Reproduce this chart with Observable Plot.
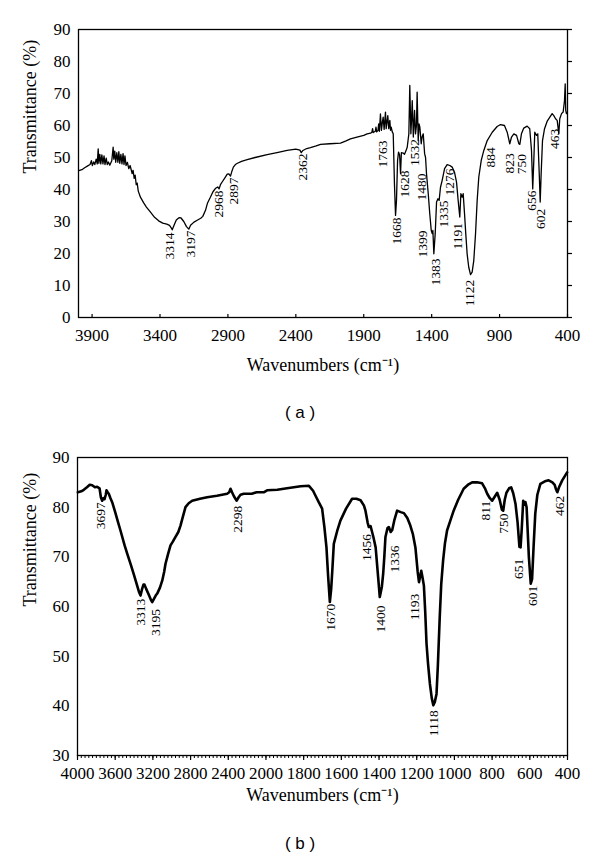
<!DOCTYPE html>
<html><head><meta charset="utf-8">
<script src="https://cdn.jsdelivr.net/npm/d3@7"></script>
<script src="https://cdn.jsdelivr.net/npm/@observablehq/plot@0.6"></script>
<style>
body{margin:0;background:#fff;}
#wrap{width:600px;height:865px;overflow:hidden;}
.cap{font-family:"Liberation Sans",Arial,sans-serif;font-size:17px;text-align:center;width:600px;color:#000;}
#capA{height:55px;line-height:55px;}
#capB{height:50px;line-height:58px;}
svg{display:block}
</style></head><body>
<div id="wrap">
<div id="a"></div>
<div class="cap" id="capA">( a )</div>
<div id="b"></div>
<div class="cap" id="capB">( b )</div>
</div>
<script>
// ---------- Panel (a) ----------
const wnA = [3998,3975,3955,3935,3915,3905,3898,3888,3880,3870,3862,3855,3850,3843,3836,3828,3820,3812,3805,3796,3788,3780,3770,3755,3745,3740,3733,3726,3718,3710,3703,3696,3688,3680,3672,3665,3658,3650,3640,3630,3620,3605,3598,3590,3583,3575,3568,3560,3544,3520,3500,3470,3440,3410,3380,3350,3330,3320,3310,3295,3280,3260,3245,3225,3205,3188,3175,3150,3126,3100,3085,3065,3050,3030,3010,2990,2975,2965,2955,2940,2920,2905,2893,2881,2870,2860,2845,2830,2800,2758,2700,2611,2530,2464,2400,2370,2360,2348,2320,2292,2250,2218,2150,2071,2030,1998,1950,1900,1875,1850,1840,1835,1830,1815,1810,1805,1795,1790,1785,1777,1770,1763,1757,1750,1740,1735,1723,1716,1708,1703,1698,1690,1683,1674,1666,1659,1651,1644,1636,1629,1623,1610,1600,1590,1580,1568,1561,1553,1548,1543,1535,1526,1519,1512,1507,1499,1493,1487,1477,1470,1462,1452,1445,1438,1425,1414,1403,1396,1391,1384,1374,1364,1354,1345,1335,1323,1305,1286,1266,1249,1232,1217,1205,1193,1185,1175,1168,1158,1149,1139,1127,1114,1102,1090,1077,1065,1053,1035,1016,991,954,918,893,864,844,825,812,795,775,758,751,739,722,697,678,665,656,648,641,628,619,608,601,594,584,569,549,530,513,501,488,476,464,457,444,432,422,417,413,408,402];
const tA = [45.9,46.2,46.8,47.3,47.8,49.0,47.5,48.6,47.8,49.5,48.0,52.7,48.2,51.0,48.0,50.8,48.0,50.5,47.8,49.8,47.8,48.6,47.6,49.0,53.2,49.5,52.0,48.5,51.5,48.5,51.8,48.2,51.0,48.0,51.2,47.8,50.5,47.5,48.5,46.5,47.5,45.0,46.0,43.5,44.5,41.5,42.0,39.5,37.6,35.8,34.5,32.9,31.3,30.2,29.5,29.2,28.8,28.2,27.4,29.0,30.5,31.2,31.1,30.0,28.4,27.6,28.8,29.8,30.4,31.0,31.6,33.5,35.8,37.5,39.3,40.4,40.8,40.2,41.5,42.5,43.8,44.8,44.9,44.2,45.8,47.0,47.8,48.2,48.8,49.3,50.0,50.9,51.6,52.2,52.6,52.3,51.5,52.2,52.8,53.1,53.6,54.1,54.3,54.5,55.2,55.8,56.4,56.9,57.4,57.6,57.9,59.0,57.8,58.2,59.5,58.0,58.5,60.5,58.2,63.6,58.5,61.0,62.6,58.8,64.2,59.0,63.1,59.0,61.6,58.5,59.5,58.0,57.4,41.8,31.9,36.6,49.1,51.7,50.8,44.9,51.5,51.4,51.0,52.0,53.2,57.4,72.5,57.4,62.0,67.8,56.4,64.7,57.4,60.0,70.4,55.3,60.5,59.5,54.3,56.5,57.4,51.2,50.0,44.9,38.6,32.4,27.2,26.2,27.2,19.9,26.2,36.1,37.1,36.6,40.7,42.8,46.5,47.8,47.5,47.0,45.4,42.3,36.6,31.4,38.7,37.6,38.7,32.4,26.2,19.9,15.7,13.4,14.2,17.8,26.2,36.6,43.9,49.1,52.2,55.3,57.9,59.7,60.3,60.0,57.9,54.3,56.4,57.4,56.9,54.3,54.1,57.4,59.2,59.8,59.0,52.2,40.2,49.1,57.9,56.9,57.4,44.9,36.1,44.9,55.3,59.0,61.4,62.6,63.7,63.1,62.1,61.6,57.4,62.1,63.7,64.2,67.8,73.0,64.7,63.7,64.2];
const peakTextA = ["3314","3197","2968","2897","2362","1763","1668","1628","1532","1480","1399","1383","1335","1276","1191","1122","884","823","750","656","602","463"];
const peakWnA = [3330,3175,2969,2859,2351,1764,1661,1601,1526,1475,1467,1367,1313,1269,1210,1118,962,827,739,665,599,496];
const peakTA = [26.6,27.2,39.7,43.75,51.25,55.3,31.25,45.9,55.8,45.0,27.2,18.4,36.6,46.6,29.5,11.8,53.2,51.3,51.1,39.7,34.0,59.0];
const xTicksA = [3900,3400,2900,2400,1900,1400,900,400];
const yTicksA = [0,10,20,30,40,50,60,70,80,90];

// ---------- Panel (b) ----------
const wnB = [3996,3960,3933,3900,3870,3844,3815,3791,3766,3752,3738,3725,3713,3700,3692,3680,3668,3650,3632,3600,3570,3544,3500,3470,3437,3400,3367,3345,3331,3315,3300,3289,3270,3240,3220,3207,3190,3170,3154,3125,3101,3080,3066,3040,3013,2990,2960,2930,2907,2880,2854,2820,2783,2700,2624,2520,2412,2390,2376,2360,2340,2312,2290,2270,2236,2150,2100,2024,1994,1940,1888,1816,1772,1750,1737,1720,1702,1690,1679,1670,1661,1654,1648,1640,1620,1605,1575,1543,1520,1498,1480,1472,1460,1454,1445,1430,1418,1405,1396,1385,1378,1372,1366,1355,1348,1338,1330,1318,1304,1285,1268,1250,1234,1220,1207,1195,1188,1176,1170,1162,1155,1148,1140,1130,1120,1112,1104,1095,1088,1078,1070,1060,1050,1039,1020,1004,980,951,925,906,880,853,838,826,812,800,788,773,760,748,741,733,724,710,699,688,676,665,655,649,643,635,629,623,617,605,595,588,580,571,560,544,520,500,480,468,460,454,445,428,415,402];
const tB = [83.0,83.2,83.5,84.0,84.5,84.4,84.0,84.1,83.8,82.0,81.3,81.8,81.6,82.5,83.4,83.0,82.7,81.8,81.0,79.0,77.0,75.3,72.3,70.5,68.6,66.3,64.2,62.8,62.2,63.5,64.4,64.4,63.5,62.2,61.3,60.9,61.5,62.2,62.6,63.8,65.2,67.0,68.6,70.5,72.3,73.0,74.0,75.0,76.3,78.2,80.0,80.8,81.3,81.7,82.0,82.3,82.7,83.0,83.7,83.0,82.2,81.3,82.0,82.5,82.7,82.7,83.0,83.0,83.4,83.5,83.8,84.2,84.3,83.3,82.3,81.0,79.7,76.0,71.9,66.0,60.9,63.5,67.2,72.6,75.5,77.3,79.7,81.7,81.7,81.4,80.3,79.3,76.8,76.0,76.2,74.0,71.9,66.0,61.9,64.0,66.6,70.0,74.0,75.8,76.0,75.0,75.4,77.5,79.3,79.0,78.8,77.8,76.3,74.5,71.9,67.0,64.9,67.2,66.0,64.2,59.0,52.5,48.5,44.4,41.5,40.1,40.8,42.4,48.0,57.8,64.5,69.3,72.8,75.3,77.5,79.3,81.5,83.7,84.6,85.0,85.0,84.8,83.8,82.7,81.8,81.3,82.0,82.9,81.5,79.5,79.3,81.5,82.9,83.8,84.0,82.8,80.7,77.0,72.0,71.9,75.5,81.3,80.5,81.0,80.0,70.0,64.6,65.5,72.0,78.7,82.5,84.7,85.2,85.4,85.0,84.5,83.5,83.0,84.0,85.4,86.2,87.0];
const peakTextB = ["3697","3313","3195","2298","1670","1456","1400","1336","1193","1118","811","750","651","601","462"];
const peakWnB = [3752,3328,3169,2302,1659,1463,1390,1318,1213,1109,835,738,658,586,442];
const peakTB = [81.0,61.55,59.5,80.3,60.55,74.6,60.2,72.3,62.55,39.1,81.3,78.7,69.6,64.2,82.3];
const tickWnB = [4000,3600,3200,2800,2400,2000,1800,1600,1400,1200,1000,800,600,400];
const tickLabelsB = ["4000","3600","3200","2800","2400","2000","1800","1600","1400","1200","1000","800","600","400"];
const yTicksB = [30,40,50,60,70,80,90];

const serif = "'Liberation Serif', 'Times New Roman', serif";
const yLabel = "Transmittance (%)";
const xLabel = "Wavenumbers (cm\u207B\u00B9)";
const plain = d => String(d);

// ---- build (a)
const dataA = wnA.map((w, i) => ({w, t: tA[i]}));
const labA = peakTextA.map((s, i) => ({s, w: peakWnA[i], t: peakTA[i]}));
const plotA = Plot.plot({
  width: 600, height: 385,
  marginLeft: 78, marginRight: 33, marginTop: 29, marginBottom: 68,
  style: {fontFamily: serif, fontSize: "17px", color: "#000", background: "#fff"},
  x: {domain: [4000, 400], label: null},
  y: {domain: [0, 90], label: null},
  marks: [
    Plot.axisY(yTicksA, {anchor: "left", tickSize: 0, tickPadding: 8, tickFormat: plain, label: null, fontSize: 17}),
    Plot.axisY(yTicksA, {anchor: "right", tickSize: 4, tickFormat: () => "", label: null, strokeWidth: 1.2}),
    Plot.axisX(xTicksA, {anchor: "bottom", tickSize: 0, tickPadding: 11, tickFormat: plain, label: null, fontSize: 17}),
    Plot.axisX(xTicksA, {anchor: "bottom", tickSize: 3, dy: -3, tickFormat: () => "", label: null, strokeWidth: 1.2}),
    Plot.line(dataA, {x: "w", y: "t", stroke: "#000", strokeWidth: 1.3}),
    Plot.frame({stroke: "#000", strokeWidth: 1.3}),
    Plot.text(labA, {x: "w", y: "t", text: "s", rotate: -90, textAnchor: "end", fontSize: 13.5, fill: "#000"}),
    Plot.text([yLabel], {frameAnchor: "left", dx: -48, rotate: -90, fontSize: 18, fill: "#000"}),
    Plot.text([xLabel], {frameAnchor: "bottom", dy: 53, fontSize: 18, fill: "#000"})
  ]
});
document.getElementById("a").appendChild(plotA);

// ---- build (b): piecewise wavenumber axis (step 400 above 2000, 200 below)
const toU = d3.scaleLinear().domain(tickWnB).range(d3.range(tickWnB.length));
const dataB = wnB.map((w, i) => ({u: toU(w), t: tB[i]}));
const labB = peakTextB.map((s, i) => ({s, u: toU(peakWnB[i]), t: peakTB[i]}));
const majorU = d3.range(tickWnB.length);
const minorU = d3.range(0, (tickWnB.length - 1) * 10 + 1).map(k => k / 10);
const plotB = Plot.plot({
  width: 600, height: 375,
  marginLeft: 77, marginRight: 33, marginTop: 17, marginBottom: 60,
  style: {fontFamily: serif, fontSize: "17px", color: "#000", background: "#fff"},
  x: {domain: [0, tickWnB.length - 1], label: null},
  y: {domain: [30, 90], label: null},
  marks: [
    Plot.axisY(yTicksB, {anchor: "left", tickSize: 0, tickPadding: 8, tickFormat: plain, label: null, fontSize: 17}),
    Plot.axisX(minorU, {anchor: "bottom", tickSize: 3, tickFormat: () => "", label: null, strokeWidth: 1}),
    Plot.axisX(majorU, {anchor: "bottom", tickSize: 5, tickPadding: 6, tickFormat: i => tickLabelsB[i], label: null, fontSize: 17, strokeWidth: 1.2}),
    Plot.line(dataB, {x: "u", y: "t", stroke: "#000", strokeWidth: 2.6, strokeLinejoin: "round"}),
    Plot.frame({stroke: "#000", strokeWidth: 1.3}),
    Plot.text(labB, {x: "u", y: "t", text: "s", rotate: -90, textAnchor: "end", fontSize: 13.5, fill: "#000"}),
    Plot.text([yLabel], {frameAnchor: "left", dx: -47, rotate: -90, fontSize: 18, fill: "#000"}),
    Plot.text([xLabel], {frameAnchor: "bottom", dy: 45, fontSize: 18, fill: "#000"})
  ]
});
document.getElementById("b").appendChild(plotB);
</script>
</body></html>
